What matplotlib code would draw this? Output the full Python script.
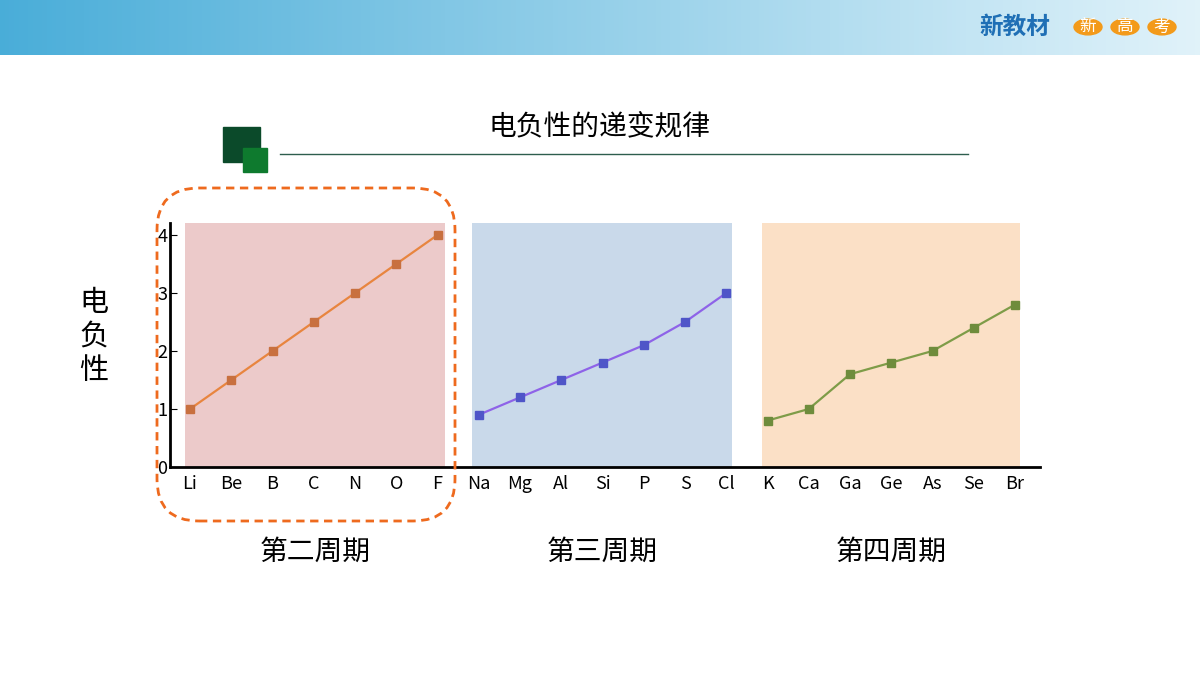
import matplotlib
matplotlib.use("Agg")
import matplotlib.pyplot as plt
import numpy as np
from matplotlib.patches import FancyBboxPatch, Rectangle, Circle

plt.rcParams['font.family'] = ['Noto Sans CJK SC', 'DejaVu Sans']

elements = ["Li","Be","B","C","N","O","F","Na","Mg","Al","Si","P","S","Cl","K","Ca","Ga","Ge","As","Se","Br"]
period2 = [1.0,1.5,2.0,2.5,3.0,3.5,4.0]
period3 = [0.9,1.2,1.5,1.8,2.1,2.5,3.0]
period4 = [0.8,1.0,1.6,1.8,2.0,2.4,2.8]
period_names = ["第二周期","第三周期","第四周期"]
yticks = [0,1,2,3,4]

W, H = 1200, 675
fig = plt.figure(figsize=(12, 6.75), dpi=100)
fig.patch.set_facecolor("white")

def fx(px): return px / W
def fy(py): return 1 - py / H

# header gradient
hax = fig.add_axes([0, fy(55), 1, 55 / H])
grad = np.linspace(0, 1, 256)
c1 = np.array([0.29, 0.68, 0.85]); c2 = np.array([0.88, 0.95, 0.98])
img = c1[None, :] * (1 - grad[:, None]) + c2[None, :] * grad[:, None]
hax.imshow(img[None, :, :], aspect="auto", extent=[0, 1, 0, 1])
hax.axis("off")
fig.text(fx(1015), fy(27), "新教材", fontsize=17, fontweight="bold", color="#1F6FB5", ha="center", va="center")
for cx, ch in zip([1088, 1125, 1162], ["新", "高", "考"]):
    fig.patches.append(Circle((fx(cx), fy(27)), 14 / W, transform=fig.transFigure, color="#F39A1A"))
    fig.text(fx(cx), fy(27), ch, fontsize=12, color="white", ha="center", va="center")

# title
fig.text(fx(600), fy(127), "电负性的递变规律", fontsize=20, ha="center", va="center", color="black")
fig.add_artist(plt.Line2D([fx(280), fx(968)], [fy(154), fy(154)], color="#2E5E4E", lw=1))
fig.patches.append(Rectangle((fx(223), fy(162)), 37 / W, 35 / H, transform=fig.transFigure, color="#0B4A2A"))
fig.patches.append(Rectangle((fx(243), fy(172)), 24 / W, 24 / H, transform=fig.transFigure, color="#0E7A2E"))

# main axes
ax = fig.add_axes([fx(170), fy(467), fx(1040) - fx(170), (467 - 223) / H])
sp = 41.25
ax.set_xlim(-20 / sp, (1040 - 190) / sp)
ax.set_ylim(0, (467 - 223) / 58)
bgs = [("#ECCACA", 185, 445), ("#C9D9EA", 472, 732), ("#FBE0C6", 762, 1020)]
for col, a, b in bgs:
    ax.axvspan((a - 190) / sp, (b - 190) / sp, ymax=(467 - 223) / (467 - 223), color=col, zorder=0, lw=0)
series = [(period2, "#E8853F", "#C8703F"), (period3, "#8E63E8", "#4F55C8"), (period4, "#7E9C48", "#6E8C3C")]
for i, (vals, lc, mc) in enumerate(series):
    xs = np.arange(7) + 7 * i
    ax.plot(xs, vals, color=lc, lw=1.6, marker="s", ms=6, mfc=mc, mec=mc, zorder=3)
ax.set_xticks(range(len(elements)))
ax.set_xticklabels(elements, fontsize=13)
ax.set_yticks(yticks)
ax.set_yticklabels([str(v) for v in yticks], fontsize=13)
ax.tick_params(axis="x", length=0, pad=6)
ax.tick_params(axis="y", direction="in", length=5, pad=2)
for s in ["top", "right"]:
    ax.spines[s].set_visible(False)
ax.spines["left"].set_linewidth(2)
ax.spines["bottom"].set_linewidth(2)
ax.patch.set_alpha(0)

for name, cx in zip(period_names, [315, 602, 891]):
    fig.text(fx(cx), fy(552), name, fontsize=20, ha="center", va="center")
for k, ch in enumerate("电负性"):
    fig.text(fx(94), fy(303 + 34 * k), ch, fontsize=21, ha="center", va="center")

# dashed rounded box
fig.patches.append(FancyBboxPatch((fx(157), fy(521)), (455 - 157) / W, (521 - 188) / H,
                                  boxstyle="round,pad=0,rounding_size=0.035", transform=fig.transFigure,
                                  fill=False, ec="#EE6A1E", lw=2, ls=(0, (3, 2)), mutation_aspect=W / H))

fig.savefig("out.png", dpi=100)
